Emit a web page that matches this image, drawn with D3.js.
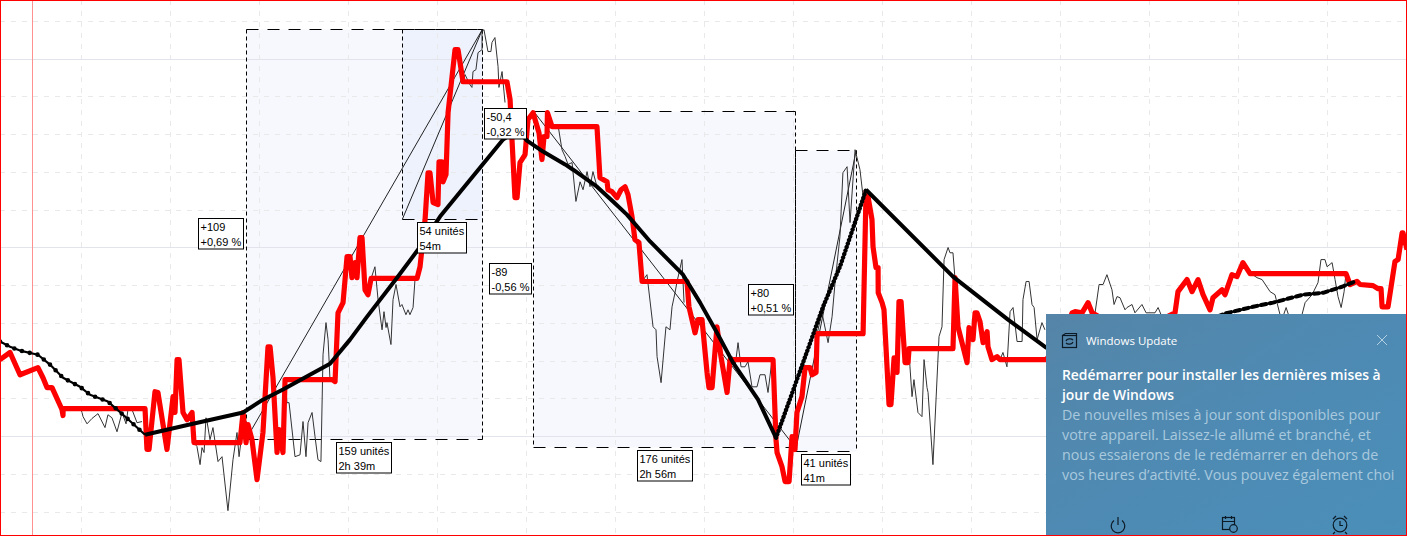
<!DOCTYPE html>
<html><head><meta charset="utf-8">
<script src="https://d3js.org/d3.v7.min.js"></script>
<style>html,body{margin:0;padding:0;background:#fff;overflow:hidden}svg{display:block}</style>
</head><body><div id="chart"></div>
<script>
// Time in minutes, price in points above 15700.
const redT=[4.7,11.5,18.2,30.3,33.7,36.4,39.8,46.5,47.2,47.3,102.5,103.8,105.2,109.2,111.2,117.3,121.4,122.7,124.1,125.4,128.1,130.8,134.2,135.5,166.5,168.6,170.6,171.9,174.6,178,182,185.4,186.8,188.8,191.5,192.8,195.5,196.9,228.6,230.6,232.6,236,238.7,240.7,242,244.1,245.4,247.4,248.8,250.8,252.8,254.9,285.9,287.9,291.3,293.3,294.6,296.7,300,300.7,302.7,303.4,305.4,306.8,309.5,311.5,313.5,316.9,346.5,348.6,349.9,351.9,353.3,355.3,358.7,360.7,364.1,368.1,370.1,371.5,373.5,373.8,376.9,407.2,409.2,414,414.6,417.3,420.7,423.4,426.1,428.1,430.8,432.8,435.5,437.6,467.9,469.2,473.3,475.3,478,481.4,482.7,484.8,488.1,490.8,494.9,496.9,525.9,527.9,528.6,531.9,534,536.7,538.7,540.7,542,545.4,547.5,550.8,552.2,554.9,555.6,586.6,588.6,589.9,592.6,593.3,595.3,596.7,596.8,599.4,600.7,604.1,605.4,607.5,609.5,610.8,612.2,614.9,616.9,617.6,647.2,648.6,650.6,656.7,658,660.7,662.1,663.4,665.4,667.5,670.2,670.8,673.5,676.9,678.9,710,719.4,727.5,729.5,734.2,738.3,741,766.6,796.9,798.9,805,808.4,812.4,815.8,820.5,822.5,828.6,830.6,835.3,838.7,842.7,847.5,912.2,914.9,919.6,921.7,930.4,933.8,935.8,936.5,940.5,945.2,947.3,950,950.6,953.3];
const redV=[20.4,22.3,16.4,18.3,15.6,13,13,7.2,5.6,7.4,7.4,-3.4,-3.4,11.9,11.7,-3.4,10.6,6.4,20.4,20.4,6.4,4.5,6.4,-1.6,-1.6,6.4,-1.6,3.2,-0.8,-11.4,1.1,23.8,23.8,15.6,-4.2,1.9,-4.2,15.1,15.1,14.6,32.8,35.5,47.7,47.7,42.1,46.1,42.1,52.7,52.7,38.9,37.6,41.9,41.9,45,57.5,69.9,69.9,62,61.5,72.8,72.8,67.5,69.4,85.8,95.4,102.5,102.5,94,94,89.3,78.7,63.3,63.3,72.6,74.7,84,85.8,80.5,73.4,79.5,79.5,85.8,82.1,82.1,68.6,67.5,65.4,64.9,63.3,65.4,66.2,64.1,58.3,52.2,51.4,41.1,41.1,34.4,27.5,31,31,17,13,13,29.1,21.2,11.7,20.4,20.4,-0.8,-4.2,-7.9,-11.9,-11.9,0,-3.4,6.4,10.6,18.3,18.3,16.4,17,27.3,27.3,64.9,63.6,57.5,50.3,44.8,44.8,38.1,35.5,33.6,8.5,8.5,20.9,17,35.8,35.8,19.6,19.6,23.3,23.3,42.1,29.1,19.6,28.9,25.7,32.8,32.8,30.5,24.9,27.8,23.8,20.4,21.2,20.4,20.4,24.4,32.8,33.1,32.8,35.5,32.8,27,32.8,38.4,41.6,38.4,41.6,37.6,33.6,36.8,38.9,37.6,42.9,42.4,46.1,43.2,43.2,40.3,41.1,40.3,40,39.2,39.2,34.4,34.4,46.4,46.9,54,54,49.5];

// Thin price line: only shown where the red line is flat.
const thinA=[[58.7,7.9],[60,6.4],[60.7,5.3],[63.4,3.4],[66.7,4.8],[70.8,6.1],[75.5,2.4],[77.5,5.8],[80.2,5],[83.6,1.3],[87,6.4],[89.7,3.4],[91,7.2],[93.7,7.2],[97.1,3.7],[100.5,4]];
const thinB=[[135.5,-1.6],[137.5,-2.6],[139.6,-7.4],[140.9,-2.9],[142.3,-4.2],[143.6,5],[144.3,4],[146.3,-0.8],[148.3,2.4],[151.7,-6.6],[154.4,-5.3],[158.4,-19.6],[161.8,-6.1],[164.5,1.1],[165.9,-5.3],[167.9,1.1]];
const thinC=[[196.9,15.1],[198.2,9],[199.6,9],[203.6,-5.3],[207,-4.8],[209,4],[211,-5.3],[212.4,3.7],[215.1,6.4],[217.1,0],[219.1,-6.1],[221.1,-6.6],[222.5,21.7],[224.5,30.2],[225.9,25.7],[227.2,15.1]];
const thinD=[[254.9,41.9],[257.5,45],[259.6,36.3],[262.3,28.3],[263.6,33.1],[265,28.9],[265.6,30.2],[268.3,24.4],[269.7,36.3],[271.7,40.3],[274.4,34.4],[275.7,35],[278.4,32.3],[279.8,33.6],[281.1,32.3],[283.2,34.2],[284.5,41.6]];
const thinE=[[316.9,94],[318.2,95.9],[321.6,93.2],[322.9,92.5],[323.6,96.7],[325.6,97.2],[327,101.7],[329.7,102.5],[329.7,107.3],[331,107.8],[333.7,102],[335.7,102],[336.4,104.4],[338.4,105.7],[340.5,98],[341.1,92.5],[343.2,96.7],[345.2,88.5]];
const thinF=[[376.9,82.1],[378.9,82.6],[380.9,82.6],[383.6,76],[385.7,74.2],[387.7,72.1],[390.4,72.6],[393,62.3],[395.8,67.5],[397.8,65.4],[400.5,70.2],[402.5,66.2],[404.5,70.2],[407.2,66.2]];
const thinG=[[437.6,41.1],[440.9,42.9],[445,29.1],[447,28.3],[447.7,21.2],[450.4,14.3],[453.7,29.1],[456.4,28.3],[457.8,34.4],[459.8,38.1],[461.2,41.1],[464.5,46.9],[465.9,35.5]];
const thinH=[[496.9,20.4],[498.2,21.2],[500.3,18.5],[502.3,24.9],[504.3,18.5],[507,18.5],[509,19.9],[511.7,13.2],[515.1,13.2],[517.1,16.4],[520.5,16.4],[522.5,11.7],[525.2,20.4]];
const thinI=[[555.6,27.3],[558.9,32.8],[563,24.9],[565.7,31.8],[567.7,40.8],[571,53],[573,69.9],[575.8,71.5],[577.8,56.7],[581.2,76],[584.5,70.7],[586.6,63.6]];
const thinJ=[[617.6,23.3],[618.2,18.5],[619.6,10.6],[620.9,15.1],[623.6,6.4],[626.3,5.3],[627.7,20.4],[629.7,13],[630.4,11.7],[633.7,-7.4],[637.8,26.5],[639.8,29.1],[641.2,46.9],[643.9,50.1],[645.2,48.7],[647.2,48.7],[648.6,41.6]];
const thinK=[[678.9,20.4],[680.9,22.3],[683.6,18.5],[685.7,33.1],[687.7,34.2],[690.4,25.2],[693.8,25.2],[694.4,36.3],[696.5,41.1],[698.5,41.1],[700.5,35],[701.9,34.2],[703.9,25.7],[707.2,30.2],[709.2,28.3]];
const thinL=[[743,32.8],[745.7,40.3],[748.4,40.3],[751,42.9],[754.4,38.9],[755.8,35],[757.8,37.1],[759.8,36.8],[763.2,33.6],[764.5,34.2],[767.9,35],[769.9,32.8],[774.6,35],[777.4,32.8],[783.4,32.8],[785.5,34.2],[787.5,32.3]];
const thinM=[[847.5,43.4],[852.2,42.1],[855.6,41.6],[861,38.4],[864.3,37.6],[867.7,32.3],[869.7,31.8],[871.8,34.2],[873.8,31.8],[882.5,32.3],[884.6,35.5],[889.3,37.6],[893.3,40.8],[895.3,46.9],[898,46.9],[899.4,45],[902.8,46.1],[904.8,41.6],[906.8,37.1],[908.9,34.2],[910.9,38.4],[912.2,43.4]];
const thinSegments=[thinA,thinB,thinC,thinD,thinE,thinF,thinG,thinH,thinI,thinJ,thinK,thinL,thinM];

// Thick black trend line, by stretch.
const blackHead=[[4.7,25.2],[11.5,23.8],[18.2,22.8],[30.3,21.7],[38.4,19.1],[47.2,15.6],[58.7,13.2],[65.4,11.1],[77.5,9.3],[87.7,5.8],[102.5,0.5]];
const blackMain=[[102.5,0.5],[134.8,3.4],[168.6,6.4],[182,9.8],[195.5,12.5],[227.2,19.3],[240.7,25.7],[252.2,31.8],[272.4,42.1],[286.5,49.5],[301.4,58.3],[343.9,78.7],[353.9,81.3],[360,78.4],[370.8,75.5],[385.7,72.1],[391.1,70.7],[407.2,66.2],[418,62.3],[427.4,58.8],[443,51.7],[465.2,42.9],[476.7,35.5],[488.1,27.5],[498.9,19.6],[515.8,9.8],[527.9,-0.3]];
const blackRise=[[527.9,-0.3],[542,15.1],[559.6,34.4],[571,45],[588.6,65.4]];
const blackFall=[[588.6,65.4],[647.2,42.4],[684.3,31],[710,23.6],[746.4,19.9]];
const blackTail=[[746.4,19.9],[830.6,32.6],[849.5,34.4],[863,35.5],[883.2,37.6],[896.7,38.1],[909.5,39.7],[918.3,41.1]];

// Measured ranges: start, end, low, high (minutes, points).
const rangeStart=[170.6,276,364.6,541];
const rangeEnd=[330,330,541,582];
const rangeLow=[-0.7,57.6,-2.9,-3.9];
const rangeHigh=[107.9,107.9,86.1,75.9];
const rangeFill=["#f7f8fe","#edf2fd","#f7f8fe","#f7f8fe"];
const rangeDiagFromLow=[true,true,false,true];
const priceLabels=[["+109","+0,69 %"],["-50,4","-0,32 %"],["-89","-0,56 %"],["+80","+0,51 %"]];
const timeLabels=[["159 unités","2h 39m"],["54 unités","54m"],["176 unités","2h 56m"],["41 unités","41m"]];
const cursorTime=26.3;
const hourTicks=d3.range(60,953,60);
const priceTicks=d3.range(-20,115,10);

const toastApp="Windows Update";
const toastTitle=["Redémarrer pour installer les dernières mises à","jour de Windows"];
const toastBody=["De nouvelles mises à jour sont disponibles pour","votre appareil. Laissez-le allumé et branché, et","nous essaierons de le redémarrer en dehors de","vos heures d’activité. Vous pouvez également choi"];

const W=1407,H=536;
const x=d3.scaleLinear().domain([4.72,953.3]).range([0,W]);
const y=d3.scaleLinear().domain([115.65,-26.31]).range([0,H]);
const line=d3.line().x(d=>x(d[0])).y(d=>y(d[1]));
const svg=d3.select("#chart").append("svg").attr("width",W).attr("height",H);
svg.append("rect").attr("width",W).attr("height",H).attr("fill","#fff");

const snap=v=>Math.floor(v)+0.5;
// Range fills
const ranges=rangeStart.map((s,i)=>({s,e:rangeEnd[i],lo:rangeLow[i],hi:rangeHigh[i],fill:rangeFill[i],fromLow:rangeDiagFromLow[i]}));
svg.append("g").selectAll("rect").data(ranges).join("rect")
 .attr("x",d=>snap(x(d.s))).attr("y",d=>snap(y(d.hi))).attr("width",d=>snap(x(d.e))-snap(x(d.s))).attr("height",d=>snap(y(d.lo))-snap(y(d.hi))).attr("fill",d=>d.fill);

// Grid
const grid=svg.append("g").attr("fill","none");
grid.selectAll(".v").data(hourTicks).join("line").attr("x1",d=>snap(x(d))).attr("x2",d=>snap(x(d))).attr("y1",0).attr("y2",H)
 .attr("stroke","#e9e9e9").attr("stroke-dasharray","5 6");
grid.selectAll(".h").data(priceTicks).join("line").attr("x1",0).attr("x2",W).attr("y1",d=>snap(y(d))).attr("y2",d=>snap(y(d)))
 .attr("stroke",d=>d%50===0?"#e3e3ec":"#e9e9e9").attr("stroke-dasharray",d=>d%50===0?null:"5 6");

// Cursor
svg.append("line").attr("x1",snap(x(cursorTime))).attr("x2",snap(x(cursorTime))).attr("y1",0).attr("y2",H).attr("stroke","#ff9090");

// Range outlines and diagonals
const rg=svg.append("g").attr("fill","none").attr("stroke","#000");
ranges.forEach(d=>{
  const l=snap(x(d.s)),r=snap(x(d.e)),t=snap(y(d.hi)),b=snap(y(d.lo));
  rg.append("line").attr("x1",l).attr("x2",l).attr("y1",t).attr("y2",b).attr("stroke-dasharray","4 3");
  rg.append("line").attr("x1",r).attr("x2",r).attr("y1",t).attr("y2",b).attr("stroke-dasharray","4 3");
  rg.append("line").attr("x1",l).attr("x2",r).attr("y1",t).attr("y2",t).attr("stroke-dasharray","12 9");
  rg.append("line").attr("x1",l).attr("x2",r).attr("y1",b).attr("y2",b).attr("stroke-dasharray","12 9");
  rg.append("line").attr("x1",x(d.s)).attr("x2",x(d.e)).attr("y1",y(d.fromLow?d.lo:d.hi)).attr("y2",y(d.fromLow?d.hi:d.lo)).attr("stroke","#222").attr("stroke-width",1);
});

// Thin price line
svg.append("g").selectAll("path").data(thinSegments).join("path").attr("d",line)
 .attr("fill","none").attr("stroke","#333").attr("stroke-width",1);

// Red line
svg.append("path").attr("d",line(redT.map((t,i)=>[t,redV[i]]))).attr("fill","none").attr("stroke","#ff0000").attr("stroke-width",5.2).attr("stroke-linejoin","round");

// Black line
const black=svg.append("g").attr("fill","none").attr("stroke","#000").attr("stroke-linejoin","round");
black.append("path").attr("d",line(blackHead)).attr("stroke-width",2.2);
black.append("path").attr("d",line(blackHead)).attr("stroke-width",4.6).attr("stroke-linecap","round").attr("stroke-dasharray","0 8");
black.append("path").attr("d",line(blackMain)).attr("stroke-width",4);
black.append("path").attr("d",line(blackRise)).attr("stroke-width",4.4).attr("stroke-linecap","round").attr("stroke-dasharray","0.1 3.6");
black.append("path").attr("d",line(blackFall)).attr("stroke-width",4);
black.append("path").attr("d",line(blackTail)).attr("stroke-width",2.4);
black.append("path").attr("d",line(blackTail)).attr("stroke-width",4).attr("stroke-linecap","round").attr("stroke-dasharray","5 4");

// Label boxes
function box(lines,place){
  const g=svg.append("g");
  const r=g.append("rect").attr("fill","#fff").attr("stroke","#000").attr("height",30.5);
  const ts=lines.map((s,i)=>g.append("text").text(s).attr("font-family","'Liberation Sans',Arial,sans-serif").attr("font-size",11).attr("fill","#000").attr("y",12.5+i*14.5).attr("x",2));
  const w=Math.ceil(Math.max(...ts.map(t=>t.node().getComputedTextLength())))+4;
  r.attr("width",w);
  const p=place(w);
  g.attr("transform",`translate(${snap(p[0])},${snap(p[1])})`);
}
const rr=ranges;
const mid=d=>(y(d.hi)+y(d.lo))/2-16;
box(priceLabels[0],w=>[x(rr[0].s)-w-3,mid(rr[0])]);
box(priceLabels[1],w=>[x(rr[1].e)+2,mid(rr[1])]);
box(priceLabels[2],w=>[x(rr[2].s)-w-2.5,mid(rr[2])]);
box(priceLabels[3],w=>[x(rr[3].s)-w-2,mid(rr[3])]);
rr.forEach((d,i)=>box(timeLabels[i],w=>[(x(d.s)+x(d.e))/2-w/2,y(d.lo)+3]));

// Frame
svg.append("rect").attr("x",0.5).attr("y",0.5).attr("width",W-1).attr("height",H-1).attr("fill","none").attr("stroke","#ff0000");

// Notification toast
const defs=svg.append("defs");
const grad=defs.append("linearGradient").attr("id","toast").attr("x1","0").attr("y1","0").attr("x2","1").attr("y2","1");
grad.append("stop").attr("offset","0").attr("stop-color","#5585a8");
grad.append("stop").attr("offset","0.5").attr("stop-color","#4e8ab3");
grad.append("stop").attr("offset","1").attr("stop-color","#4a8fb9");
const toast=svg.append("g").attr("transform","translate(1046,314)").attr("font-family","'Open Sans','Noto Sans',sans-serif");
toast.append("rect").attr("width",360).attr("height",221).attr("fill","url(#toast)");
toast.append("text").text(toastApp).attr("x",40).attr("y",31).attr("font-size",11.5).attr("fill","#fff");
toast.selectAll(".title").data(toastTitle).join("text").text(d=>d).attr("x",16).attr("y",(d,i)=>66+i*20).attr("font-size",13.9).attr("font-weight",600).attr("fill","#fff");
toast.selectAll(".body").data(toastBody).join("text").text(d=>d).attr("x",16).attr("y",(d,i)=>106+i*20).attr("font-size",14.3).attr("fill","#a9c9de");
const ic=toast.append("g").attr("fill","none").attr("stroke","#0c1a26").attr("stroke-width",1.2);
// update icon
ic.append("rect").attr("x",16.5).attr("y",21.5).attr("width",14).attr("height",12);
ic.append("path").attr("d","M20 27a4 3 0 0 1 7-1M27 28a4 3 0 0 1-7 1");
ic.append("path").attr("d","M16.5 21.5l3-2h11v2");
// close
toast.append("path").attr("d","M331 21l10 10M341 21l-10 10").attr("stroke","#b5d0e2").attr("fill","none");
// power
ic.append("path").attr("d","M68 206.5a6.8 6.8 0 1 0 8 0M72 203v8");
// calendar + clock
ic.append("rect").attr("x",176.5).attr("y",203.5).attr("width",12).attr("height",12);
ic.append("path").attr("d","M176.5 207.5h12M179.5 202v3M185.5 202v3");
ic.append("circle").attr("cx",187.5).attr("cy",214.5).attr("r",3.8).attr("fill","#4d8bb5");
// alarm
ic.append("circle").attr("cx",294).attr("cy",211).attr("r",6.8);
ic.append("path").attr("d","M294 207v4.5h3M287 205l3-3M301 205l-3-3M289 218l-2 2M299 218l2 2");
</script></body></html>
